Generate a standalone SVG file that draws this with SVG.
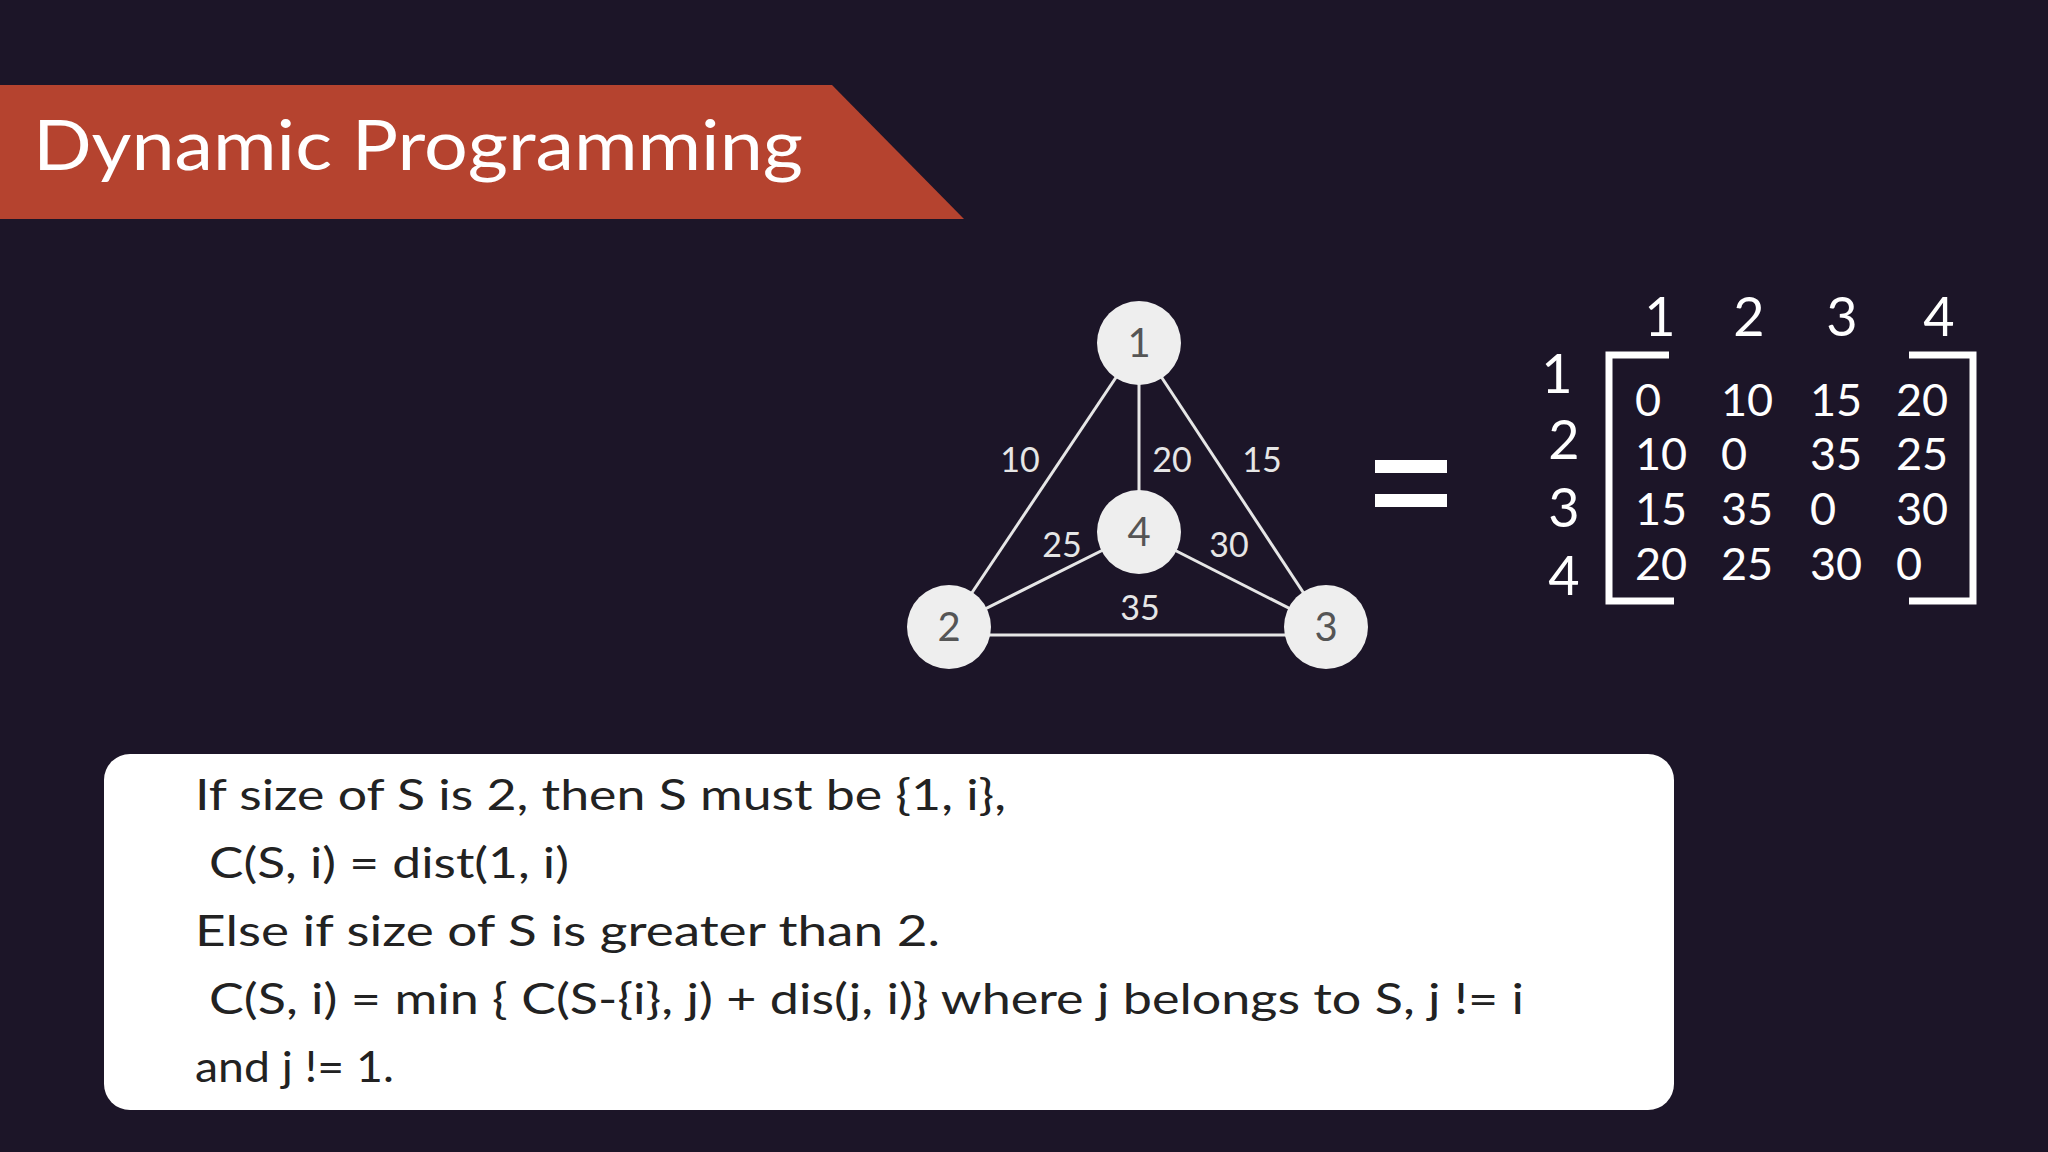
<svg xmlns="http://www.w3.org/2000/svg" width="2048" height="1152" viewBox="0 0 2048 1152">
<style>
text{font-family:"Lato","Noto Sans",sans-serif}
.n{fill:#eeeeee}
.nt{fill:#555;font-size:40px;text-anchor:middle}
.el{fill:#e6e6e6;font-size:34px;text-anchor:middle}
.e{stroke:#e6e6e6;stroke-width:3;fill:none}
.h{fill:#fff;font-size:54px;text-anchor:middle}
.m{fill:#fff;font-size:45px}
.b{stroke:#fff;stroke-width:7;fill:none}
.t{fill:#222;font-size:42px}
</style>
<rect width="2048" height="1152" fill="#1c1528"/>
<g id="banner">
<polygon points="0,85 832,85 964,219 0,219" fill="#b5432f"/>
<text x="33" y="170" font-size="70" fill="#fff" textLength="770" lengthAdjust="spacingAndGlyphs">Dynamic Programming</text>
</g>
<g id="connectors">
<line class="e" x1="1139" y1="343" x2="949" y2="627"/>
<line class="e" x1="1139" y1="343" x2="1326" y2="627"/>
<line class="e" x1="1139" y1="343" x2="1139" y2="532"/>
<line class="e" x1="1139" y1="532" x2="949" y2="627"/>
<line class="e" x1="1139" y1="532" x2="1326" y2="627"/>
<line class="e" x1="949" y1="635" x2="1326" y2="635"/>
<text class="el" x="1020" y="472">10</text>
<text class="el" x="1172" y="472">20</text>
<text class="el" x="1262" y="472">15</text>
<text class="el" x="1062" y="557">25</text>
<text class="el" x="1229" y="557">30</text>
<text class="el" x="1140" y="620">35</text>
</g>
<g id="node1"><circle class="n" cx="1139" cy="343" r="42"/><text class="nt" x="1139" y="357">1</text></g>
<g id="node4"><circle class="n" cx="1139" cy="532" r="42"/><text class="nt" x="1139" y="546">4</text></g>
<g id="node2"><circle class="n" cx="949" cy="627" r="42"/><text class="nt" x="949" y="641">2</text></g>
<g id="node3"><circle class="n" cx="1326" cy="627" r="42"/><text class="nt" x="1326" y="641">3</text></g>
<g id="equals">
<rect x="1375" y="460" width="72" height="13" fill="#fff"/>
<rect x="1375" y="494" width="72" height="13" fill="#fff"/>
</g>
<g id="matrix">
<text class="h" x="1660" y="336">1</text><text class="h" x="1749" y="336">2</text><text class="h" x="1842" y="336">3</text><text class="h" x="1939" y="336">4</text>
<text class="h" x="1557" y="393">1</text><text class="h" x="1564" y="459">2</text><text class="h" x="1564" y="527">3</text><text class="h" x="1564" y="595">4</text>
<path class="b" d="M1669,355 H1609 V601 H1674"/>
<path class="b" d="M1909,355 H1973 V601 H1909"/>
<text class="m" x="1635" y="416">0</text><text class="m" x="1721" y="416">10</text><text class="m" x="1810" y="416">15</text><text class="m" x="1896" y="416">20</text>
<text class="m" x="1635" y="470">10</text><text class="m" x="1721" y="470">0</text><text class="m" x="1810" y="470">35</text><text class="m" x="1896" y="470">25</text>
<text class="m" x="1635" y="525">15</text><text class="m" x="1721" y="525">35</text><text class="m" x="1810" y="525">0</text><text class="m" x="1896" y="525">30</text>
<text class="m" x="1635" y="580">20</text><text class="m" x="1721" y="580">25</text><text class="m" x="1810" y="580">30</text><text class="m" x="1896" y="580">0</text>
</g>
<g id="textbox">
<rect x="104" y="754" width="1570" height="356" rx="26" fill="#fff"/>
<text class="t" x="195" y="810" textLength="811" lengthAdjust="spacingAndGlyphs">If size of S is 2, then S must be {1, i},</text>
<text class="t" x="209" y="878" textLength="360" lengthAdjust="spacingAndGlyphs">C(S, i) = dist(1, i)</text>
<text class="t" x="195" y="946" textLength="745" lengthAdjust="spacingAndGlyphs">Else if size of S is greater than 2.</text>
<text class="t" x="209" y="1014" textLength="1315" lengthAdjust="spacingAndGlyphs">C(S, i) = min { C(S-{i}, j) + dis(j, i)} where j belongs to S, j != i</text>
<text class="t" x="195" y="1082" textLength="199" lengthAdjust="spacingAndGlyphs">and j != 1.</text>
</g>
</svg>
